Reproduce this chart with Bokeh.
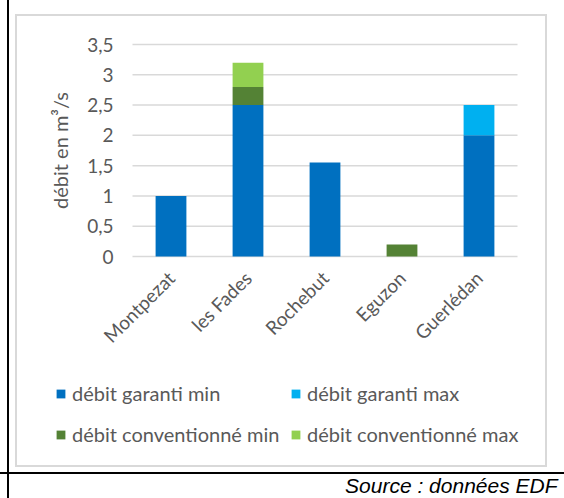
from bokeh.plotting import figure
from bokeh.models import (Range1d, FixedTicker, Legend, LegendItem, Label, LinearAxis, Grid)
from bokeh.embed import file_html
from bokeh.resources import INLINE
from math import pi

# ---- data ----
categories = ["Montpezat", "les Fades", "Rochebut", "Eguzon", "Guerlédan"]
garanti_min = [1.0, 2.5, 1.55, 0.0, 2.0]
garanti_max = [0.0, 0.0, 0.0, 0.0, 0.5]
conventionne_min = [0.0, 0.3, 0.0, 0.2, 0.0]
conventionne_max = [0.0, 0.4, 0.0, 0.0, 0.0]
series_names = ["débit garanti min", "débit garanti max",
                "débit conventionné min", "débit conventionné max"]
tick_values = [0, 0.5, 1, 1.5, 2, 2.5, 3, 3.5]
tick_labels = ["0", "0,5", "1", "1,5", "2", "2,5", "3", "3,5"]
y_title = "débit en m³/s"
source_text = "Source : données EDF"

colors = ["#0070C0", "#00B0F0", "#548235", "#92D050"]
FONT = "Lato"
GRAY = "#595959"
W, H = 564, 498

# layout: plot area spans page px 132..517 (x) and 44..256 (y)
n = len(categories)
ymax = tick_values[-1]
PX_L, PX_R, PX_T, PX_B = 132.0, 517.0, 44.0, 256.0
kx = (PX_R - PX_L) / n
ky = (PX_B - PX_T) / ymax
x_range = Range1d(-PX_L / kx, n + (W - PX_R) / kx)
y_range = Range1d(-(H - PX_B) / ky, ymax + PX_T / ky)
xpos = [i + 0.5 for i in range(n)]

# decorative page frame (black rules) and chart border (light gray), drawn by CSS
bg = [
    ("7px 0px", "2px 100%", "#000000"),
    ("0px 472px", "100% 2px", "#000000"),
    ("16px 14px", "531px 2px", "#D9D9D9"),
    ("16px 465px", "531px 2px", "#D9D9D9"),
    ("15px 14px", "2px 453px", "#D9D9D9"),
    ("545px 14px", "2px 453px", "#D9D9D9"),
]
styles = {
    "background-image": ", ".join(f"linear-gradient({c},{c})" for _, _, c in bg),
    "background-position": ", ".join(pos for pos, _, _ in bg),
    "background-size": ", ".join(sz for _, sz, _ in bg),
    "background-repeat": "no-repeat",
    "background-color": "white",
}

p = figure(width=W, height=H, output_backend="svg", toolbar_location=None,
           x_range=x_range, y_range=y_range,
           x_axis_location=None, y_axis_location=None,
           min_border=0, min_border_left=0, min_border_right=0,
           min_border_top=0, min_border_bottom=0, styles=styles)
p.outline_line_color = None
p.background_fill_color = None
p.border_fill_color = None
p.center = [r for r in p.center if not isinstance(r, Grid)]

# gridlines
p.segment(x0=[0] * len(tick_values), x1=[n] * len(tick_values),
          y0=tick_values, y1=tick_values, line_color="#D9D9D9", line_width=1.5)

data = dict(x=xpos, gmin=garanti_min, gmax=garanti_max,
            cmin=conventionne_min, cmax=conventionne_max)
keys = ["gmin", "gmax", "cmin", "cmax"]
rs = p.vbar_stack(keys, x="x", width=0.4, source=data, color=colors, line_color=None)

# y axis fixed at x = 0
yax = LinearAxis(fixed_location=0, ticker=FixedTicker(ticks=tick_values),
                 major_label_overrides={v: l for v, l in zip(tick_values, tick_labels)},
                 axis_line_color=None, major_tick_line_color=None,
                 minor_tick_line_color=None, major_tick_out=0, major_tick_in=0,
                 major_label_standoff=19, major_label_text_font=FONT,
                 major_label_text_font_size="19px", major_label_text_color=GRAY)
p.add_layout(yax, "left")

# x axis fixed at y = 0
xax = LinearAxis(fixed_location=0, ticker=FixedTicker(ticks=xpos),
                 major_label_overrides={x: c for x, c in zip(xpos, categories)},
                 axis_line_color=None, major_tick_line_color=None,
                 minor_tick_line_color=None, major_tick_out=0, major_tick_in=0,
                 major_label_standoff=18, major_label_orientation=pi / 4,
                 major_label_text_font=FONT, major_label_text_font_size="19px",
                 major_label_text_color=GRAY)
p.add_layout(xax, "below")

# y title
p.add_layout(Label(x=59, y=H - 150, x_units="screen", y_units="screen",
                   text=y_title, angle=pi / 2, text_align="center",
                   text_baseline="middle", text_font=FONT,
                   text_font_size="20px", text_color=GRAY))

# legends (two columns)
def make_legend(idx, px):
    its = [LegendItem(label=series_names[i], renderers=[rs[i]]) for i in idx]
    return Legend(items=its, location=(px, H - 447), orientation="vertical",
                  padding=0, margin=0, spacing=15, glyph_width=11, glyph_height=11,
                  label_height=26, label_standoff=6,
                  label_text_font=FONT, label_text_font_size="20px",
                  label_text_color=GRAY, border_line_color=None,
                  background_fill_alpha=0)

p.add_layout(make_legend([0, 2], 55))
p.add_layout(make_legend([1, 3], 290))

p.add_layout(Label(x=557, y=H - 485, x_units="screen", y_units="screen",
                   text=source_text, text_align="right", text_baseline="middle",
                   text_font="Liberation Sans", text_font_style="italic",
                   text_font_size="21px", text_color="black"))

open("out.html", "w").write(file_html(p, INLINE))
